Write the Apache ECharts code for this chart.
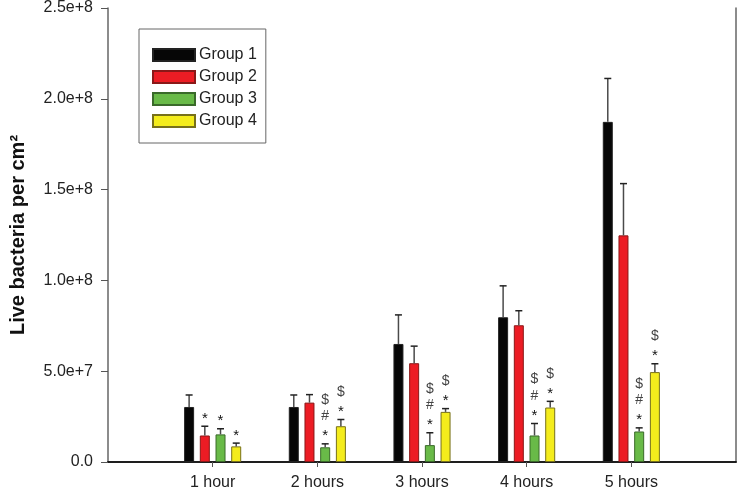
<!DOCTYPE html>
<html>
<head>
<meta charset="utf-8">
<script src="https://cdn.jsdelivr.net/npm/echarts@6/dist/echarts.min.js"></script>
<style>
html,body{margin:0;padding:0;background:#fff;}
#chart{width:739px;height:493px;}
</style>
</head>
<body>
<div id="chart"></div>
<script>
// ---- data ----
var categories = ['', '1 hour', '2 hours', '3 hours', '4 hours', '5 hours', ''];
var groupNames = ['Group 1', 'Group 2', 'Group 3', 'Group 4'];
var group1 = [3.03e7, 3.03e7, 6.5e7, 7.97e7, 18.73e7];
var group2 = [1.46e7, 3.27e7, 5.44e7, 7.53e7, 12.48e7];
var group3 = [1.52e7, 0.81e7, 0.93e7, 1.46e7, 1.68e7];
var group4 = [0.86e7, 1.97e7, 2.76e7, 3.0e7, 4.95e7];
var group1Err = [0.66e7, 0.66e7, 1.6e7, 1.73e7, 2.39e7];
var group2Err = [0.51e7, 0.44e7, 0.94e7, 0.80e7, 2.85e7];
var group3Err = [0.31e7, 0.19e7, 0.68e7, 0.66e7, 0.20e7];
var group4Err = [0.18e7, 0.37e7, 0.18e7, 0.34e7, 0.46e7];
// significance marks, listed from the bar upward
var group1Marks = ['', '', '', '', ''];
var group2Marks = ['*', '', '', '', ''];
var group3Marks = ['*', '*#$', '*#$', '*#$', '*#$'];
var group4Marks = ['*', '*$', '*$', '*$', '*$'];
var yTicks = {min: 0, max: 2.5e8, interval: 5e7};

// ---- styles ----
var FONT = 'Arial, "Liberation Sans", sans-serif';
var fills = ['#060606', '#ec1c24', '#69ba48', '#f4ec1c'];
var borders = ['#222222', '#8a1818', '#3a6a2a', '#77701a'];
var BAR_W = 10, BAR_GAP = 5.7;
var offsets = [-1.5, -0.5, 0.5, 1.5].map(function (k) { return k * (BAR_W + BAR_GAP); });

var values = [group1, group2, group3, group4];
var errs = [group1Err, group2Err, group3Err, group4Err];
var marks = [group1Marks, group2Marks, group3Marks, group4Marks];

function padded(arr) { return ['-'].concat(arr).concat(['-']); }

var series = [];
values.forEach(function (vals, g) {
  series.push({
    name: groupNames[g],
    type: 'bar',
    data: padded(vals),
    barWidth: BAR_W,
    barGap: (BAR_GAP / BAR_W * 100) + '%',
    itemStyle: {color: fills[g], borderColor: borders[g], borderWidth: 1},
    z: 2
  });
});
values.forEach(function (vals, g) {
  var data = vals.map(function (v, i) { return [i + 1, v, errs[g][i]]; });
  series.push({
    type: 'custom',
    name: 'err' + g,
    data: data,
    encode: {x: 0, y: 1},
    z: 3,
    silent: true,
    renderItem: function (params, api) {
      var ci = api.value(0), v = api.value(1), e = api.value(2);
      var base = api.coord([ci, v]);
      var top = api.coord([ci, v + e]);
      var x = base[0] + offsets[g];
      var children = [
        {type: 'line', shape: {x1: x, y1: base[1], x2: x, y2: top[1]}, style: {stroke: '#4a4a4a', lineWidth: 1.5}},
        {type: 'line', shape: {x1: x - 3.5, y1: top[1], x2: x + 3.5, y2: top[1]}, style: {stroke: '#222', lineWidth: 1.5}}
      ];
      var m = marks[g][params.dataIndex] || '';
      for (var k = 0; k < m.length; k++) {
        var ch = m.charAt(k);
        var yy = top[1] - 11 - 16.5 * k + (ch === '*' ? 3.5 : 0);
        children.push({
          type: 'text',
          style: {text: ch, x: x, y: yy, textAlign: 'center', textVerticalAlign: 'middle',
                  font: (ch === '*' ? '15px ' : '14px ') + FONT, fill: ch === '*' ? '#111' : '#444'}
        });
      }
      return {type: 'group', children: children};
    }
  });
});

var chart = echarts.init(document.getElementById('chart'), null, {renderer: 'canvas'});
chart.setOption({
  animation: false,
  backgroundColor: '#fff',
  grid: {left: 106, right: 2, top: 6, bottom: 31, containLabel: false},
  legend: {
    data: groupNames,
    orient: 'vertical',
    left: 139, top: 29,
    padding: [18, 9, 14, 13],
    borderColor: '#666', borderWidth: 1,
    icon: 'rect',
    itemWidth: 42, itemHeight: 12, itemGap: 6,
    textStyle: {fontFamily: FONT, fontSize: 16, color: '#222', padding: [0, 0, 0, -1]},
    selectedMode: false
  },
  xAxis: [{
    type: 'category',
    data: categories,
    boundaryGap: false,
    axisLine: {lineStyle: {color: '#111', width: 1.5}},
    axisTick: {length: 5, lineStyle: {color: '#555'}, interval: function (i, v) { return v !== ''; }},
    axisLabel: {interval: 0, margin: 13, fontFamily: FONT, fontSize: 16, color: '#222'},
    splitLine: {show: false}
  }, {
    type: 'category', position: 'top', data: categories, boundaryGap: false,
    axisLine: {lineStyle: {color: '#111', width: 1.5}}, axisTick: {show: false}, axisLabel: {show: false}
  }],
  yAxis: [{
    type: 'value',
    min: yTicks.min, max: yTicks.max, interval: yTicks.interval,
    name: 'Live bacteria per cm\u00b2',
    nameLocation: 'middle', nameRotate: 90, nameGap: 80,
    nameTextStyle: {fontFamily: FONT, fontSize: 20, fontWeight: 'bold', color: '#111'},
    axisLine: {show: true, lineStyle: {color: '#666', width: 1.5}},
    axisTick: {show: true, length: 7, lineStyle: {color: '#555'}},
    axisLabel: {
      margin: 15, fontFamily: FONT, fontSize: 16, color: '#222',
      formatter: function (v) { return v === 0 ? '0.0' : v.toExponential(1); }
    },
    splitLine: {show: false}
  }, {
    type: 'value', position: 'right', min: yTicks.min, max: yTicks.max, interval: yTicks.interval,
    axisLine: {show: true, lineStyle: {color: '#666', width: 1.5}}, axisTick: {show: false}, axisLabel: {show: false}, splitLine: {show: false}
  }],
  series: series
});
</script>
</body>
</html>
